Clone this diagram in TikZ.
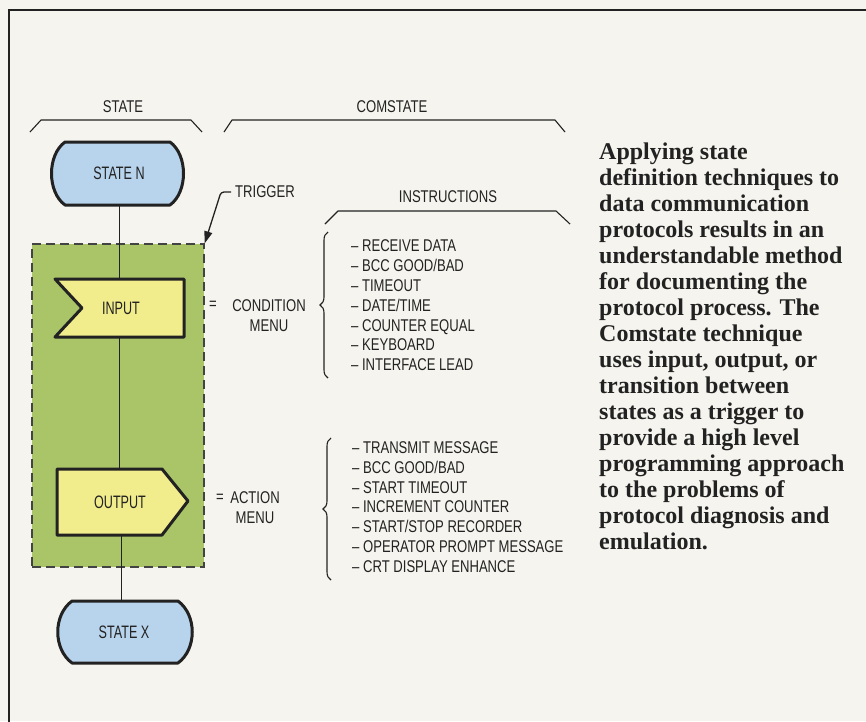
\documentclass[tikz,border=0pt]{standalone}
\usepackage{fontspec}
\setmainfont{Liberation Serif}
\newfontfamily\cnd[FakeStretch=0.77]{Liberation Sans}
\newfontfamily\cndn[FakeStretch=0.70]{Liberation Sans}
\usetikzlibrary{arrows.meta,decorations.pathreplacing}
\definecolor{bg}{HTML}{F5F4EE}
\definecolor{sblue}{HTML}{B8D3EC}
\definecolor{syel}{HTML}{F1ED8C}
\definecolor{sgreen}{HTML}{A9C568}
\definecolor{ink}{HTML}{222222}
\begin{document}
\begin{tikzpicture}[x=1pt,y=-1pt,
  lbl/.style={font=\cnd\fontsize{17}{19.8}\selectfont, text=ink, inner sep=0pt},
  nlbl/.style={font=\cndn\fontsize{18}{20}\selectfont, text=ink, inner sep=0pt},
  shapeln/.style={line width=3pt, draw=ink, line join=round},
  conn/.style={line width=1pt, draw=ink},
  topbrace/.style={line width=1.1pt, draw=ink, line join=round},
  curly/.style={line width=1.1pt, draw=ink, decorate, decoration={brace, amplitude=8pt}},
  para/.style={font=\bfseries\fontsize{24}{26}\selectfont, text=ink, inner sep=0pt, align=left},
]
\fill[bg] (0,0) rectangle (866,721);
\useasboundingbox (0,0) rectangle (866,721);
% frame
\draw[line width=2.8pt, draw=ink] (9,724) -- (9,10) -- (869,10);

% top braces and labels
\node[lbl] (stl) at (123,107) {STATE};
\node[lbl] (cst) at (392,107) {COMSTATE};
\draw[topbrace] (30,132) -- (41,120) -- (191,120) -- (202,132);
\draw[topbrace] (224,132) -- (232,120) -- (555,120) -- (565,132);

% green trigger box
\node[fill=sgreen, draw=ink!85, line width=1.4pt, dash pattern=on 9pt off 5pt,
      minimum width=172pt, minimum height=323pt, inner sep=0pt] (gb) at (118,405.5) {};

% named nodes for the shapes
\node[nlbl, minimum width=131pt, minimum height=63pt] (sn) at (119,173.5) {};
\node[nlbl, minimum width=129pt, minimum height=58pt] (in) at (119.5,308) {};
\node[nlbl, minimum width=128pt, minimum height=66pt] (out) at (121,502) {};
\node[nlbl, minimum width=133pt, minimum height=62pt] (sx) at (124,632) {};

% connectors
\draw[conn] (sn.south) -- (sn.south |- in.north);
\draw[conn] (in.south) -- (in.south |- out.north);
\draw[conn] (out.south) -- (out.south |- sx.north);

% shapes
\path[fill=sblue, shapeln] (65,142) -- (170,142) .. controls (188,155) and (188,192) .. (170,205)
   -- (65,205) .. controls (47,192) and (47,155) .. (65,142) -- cycle;
\path[fill=syel, shapeln] (55,279) -- (184,279) -- (184,337) -- (55,337) -- (82,308) -- cycle;
\path[fill=syel, shapeln] (57,469) -- (162,469) -- (188,501) -- (162,535) -- (57,535) -- cycle;
\path[fill=sblue, shapeln] (72,601) -- (178,601) .. controls (197,615) and (197,649) .. (178,663)
   -- (72,663) .. controls (53,649) and (53,615) .. (72,601) -- cycle;

\node[nlbl] at (sn.center) {STATE N};
\node[nlbl] at (121,308) {INPUT};
\node[nlbl] at (120,502) {OUTPUT};
\node[nlbl] at (sx.center) {STATE X};

% trigger
\node[lbl, anchor=west, inner xsep=4pt] (trg) at (231,192) {TRIGGER};
\draw[line width=1.3pt, draw=ink, rounded corners=3pt, -{Triangle[length=12pt,width=8pt]}]
   (trg.west) -- ++(-10,0) -- (gb.north east);

% instructions
\node[lbl] (ins) at (448,197) {INSTRUCTIONS};
\draw[topbrace] (325,224) -- (338,211) -- (556,211) -- (570,224);

% condition menu
\node[lbl] (eq1) at (213,305) {=};
\node[lbl, align=center] (cond) at (269,315.5) {CONDITION\\MENU};
\draw[curly] (328,378) -- (328,232);
\node[lbl, anchor=west, align=left] (clist) at (351,305.5)
 {– RECEIVE DATA\\– BCC GOOD/BAD\\– TIMEOUT\\– DATE/TIME\\– COUNTER EQUAL\\– KEYBOARD\\– INTERFACE LEAD};

% action menu
\node[lbl] (eq2) at (220,498) {=};
\node[lbl, align=center] (act) at (255,507.5) {ACTION\\MENU};
\draw[curly] (331,580) -- (331,438);
\node[lbl, anchor=west, align=left] (alist) at (352,507)
 {– TRANSMIT MESSAGE\\– BCC GOOD/BAD\\– START TIMEOUT\\– INCREMENT COUNTER\\– START/STOP RECORDER\\– OPERATOR PROMPT MESSAGE\\– CRT DISPLAY ENHANCE};

% paragraph
\node[para, anchor=north west] (txt) at (599,143)
 {Applying state\\definition techniques to\\data communication\\protocols results in an\\understandable method\\for documenting the\\protocol process. The\\Comstate technique\\uses input, output, or\\transition between\\states as a trigger to\\provide a high level\\programming approach\\to the problems of\\protocol diagnosis and\\emulation.};
\end{tikzpicture}
\end{document}
